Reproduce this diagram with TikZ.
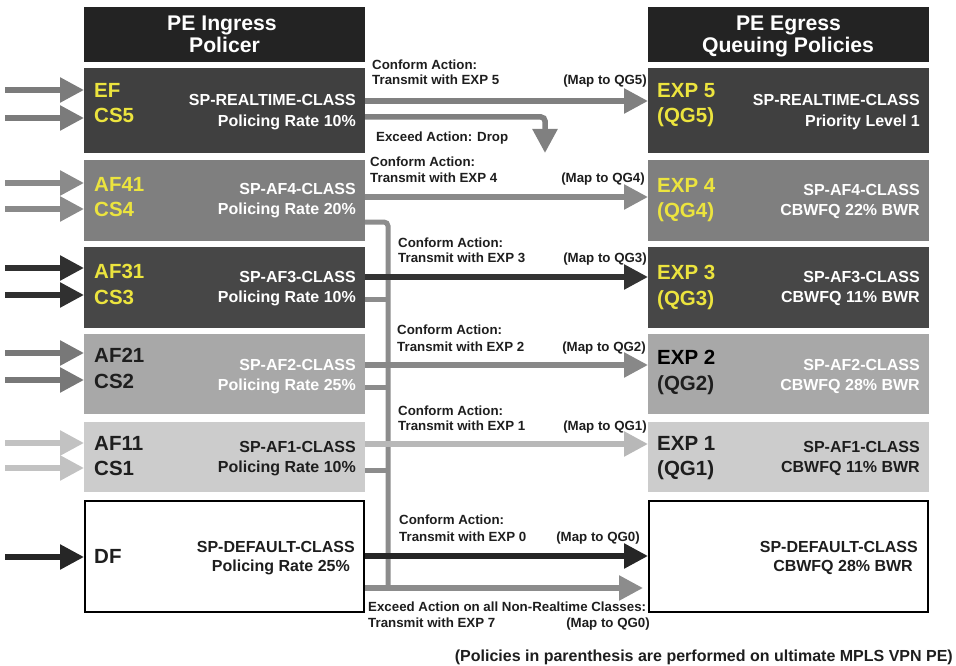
\documentclass[tikz,border=0pt]{standalone}
\usepackage{fontspec}
\setmainfont{Liberation Sans}
\usetikzlibrary{arrows.meta}

\definecolor{hdr}{HTML}{232323}
\definecolor{rtc}{HTML}{404040}
\definecolor{afour}{HTML}{7F7F7F}
\definecolor{athree}{HTML}{474747}
\definecolor{atwo}{HTML}{A8A8A8}
\definecolor{aone}{HTML}{CCCCCC}
\definecolor{ylw}{HTML}{ECE43E}
\definecolor{ink}{HTML}{1E1E1E}
\definecolor{busc}{HTML}{8C8C8C}
\definecolor{inA}{HTML}{7B7B7B}
\definecolor{inB}{HTML}{8A8A8A}
\definecolor{inC}{HTML}{303030}
\definecolor{inD}{HTML}{787878}
\definecolor{inE}{HTML}{C2C2C2}
\definecolor{inF}{HTML}{262626}
\definecolor{kfive}{HTML}{808080}
\definecolor{kfour}{HTML}{8A8A8A}
\definecolor{kthree}{HTML}{333333}
\definecolor{ktwo}{HTML}{888888}
\definecolor{kone}{HTML}{B8B8B8}
\definecolor{kzero}{HTML}{262626}

\begin{document}
\begin{tikzpicture}[x=1pt,y=-1pt,
  panel/.style={inner sep=0pt,outer sep=0pt,minimum width=281pt},
  plainpanel/.style={draw=black,line width=2pt,fill=white,inner sep=0pt,outer sep=1pt,minimum width=279pt},
  head/.style={font=\bfseries\fontsize{21.2}{23}\selectfont,text=white,inner sep=0pt,anchor=base},
  big/.style={font=\bfseries\fontsize{20.5}{22}\selectfont,inner sep=0pt,anchor=base west},
  cls/.style={font=\bfseries\fontsize{16}{18}\selectfont,inner sep=0pt,anchor=base east},
  act/.style={font=\bfseries\fontsize{13.3}{15}\selectfont,inner sep=0pt,text=ink,anchor=base west},
  actr/.style={act,anchor=base east},
  flow/.style={line width=5.5pt,-{Triangle[length=24pt,width=24pt]}},
  bar/.style={line width=5pt,draw=busc}]
\useasboundingbox (0,0) rectangle (956,666);

% ---------- column headers ----------
\node[panel,fill=hdr,minimum height=55pt] (lh) at (224.5,34.5) {};
\node[panel,fill=hdr,minimum height=55pt] (rh) at (788.5,34.5) {};
\node[head] (lh1) at (222,30.5) {PE Ingress};
\node[head] (lh2) at (224.5,52.5) {Policer};
\node[head] (rh1) at (788.5,30.5) {PE Egress};
\node[head] (rh2) at (788,52.5) {Queuing Policies};

% ---------- ingress policer classes ----------
\node[panel,fill=rtc,minimum height=85pt] (l1) at (224.5,110.5) {};
\node[panel,fill=afour,minimum height=81pt] (l2) at (224.5,200.5) {};
\node[panel,fill=athree,minimum height=81pt] (l3) at (224.5,287.5) {};
\node[panel,fill=atwo,minimum height=80pt] (l4) at (224.5,374) {};
\node[panel,fill=aone,minimum height=70pt] (l5) at (224.5,457) {};
\node[plainpanel,minimum height=111pt] (l6) at (224.5,556.5) {};

% ---------- egress queuing classes ----------
\node[panel,fill=rtc,minimum height=85pt] (r1) at (788.5,110.5) {};
\node[panel,fill=afour,minimum height=81pt] (r2) at (788.5,200.5) {};
\node[panel,fill=athree,minimum height=81pt] (r3) at (788.5,287.5) {};
\node[panel,fill=atwo,minimum height=80pt] (r4) at (788.5,374) {};
\node[panel,fill=aone,minimum height=70pt] (r5) at (788.5,457) {};
\node[plainpanel,minimum height=111pt] (r6) at (788.5,556.5) {};

% ---------- ingress labels ----------
\node[big,text=ylw] (t1a) at (94,97.3) {EF};
\node[big,text=ylw] (t1b) at (94,122.3) {CS5};
\node[cls,text=white] (t1c) at (356,105.7) {SP-REALTIME-CLASS};
\node[cls,text=white] (t1d) at (356,126.7) {Policing Rate 10\%};

\node[big,text=ylw] (t2a) at (94,191.3) {AF41};
\node[big,text=ylw] (t2b) at (94,216.3) {CS4};
\node[cls,text=white] (t2c) at (356,194.7) {SP-AF4-CLASS};
\node[cls,text=white] (t2d) at (356,214.7) {Policing Rate 20\%};

\node[big,text=ylw] (t3a) at (94,278.3) {AF31};
\node[big,text=ylw] (t3b) at (94,304.3) {CS3};
\node[cls,text=white] (t3c) at (356,282.7) {SP-AF3-CLASS};
\node[cls,text=white] (t3d) at (356,302.7) {Policing Rate 10\%};

\node[big,text=ink] (t4a) at (94,362.3) {AF21};
\node[big,text=ink] (t4b) at (94,388.3) {CS2};
\node[cls,text=white] (t4c) at (356,370.7) {SP-AF2-CLASS};
\node[cls,text=white] (t4d) at (356,390.7) {Policing Rate 25\%};

\node[big,text=ink] (t5a) at (94,450.3) {AF11};
\node[big,text=ink] (t5b) at (94,475.3) {CS1};
\node[cls,text=ink] (t5c) at (356,452.7) {SP-AF1-CLASS};
\node[cls,text=ink] (t5d) at (356,472.7) {Policing Rate 10\%};

\node[big,text=ink] (t6a) at (94,563.3) {DF};
\node[cls,text=ink] (t6c) at (355,552.7) {SP-DEFAULT-CLASS};
\node[cls,text=ink] (t6d) at (350,571.7) {Policing Rate 25\%};

% ---------- egress labels ----------
\node[big,text=ylw] (u1a) at (657,97.3) {EXP 5};
\node[big,text=ylw] (u1b) at (657,122.3) {(QG5)};
\node[cls,text=white] (u1c) at (920,105.7) {SP-REALTIME-CLASS};
\node[cls,text=white] (u1d) at (920,126.7) {Priority Level 1};

\node[big,text=ylw] (u2a) at (657,192.3) {EXP 4};
\node[big,text=ylw] (u2b) at (657,217.3) {(QG4)};
\node[cls,text=white] (u2c) at (920,195.7) {SP-AF4-CLASS};
\node[cls,text=white] (u2d) at (920,215.7) {CBWFQ 22\% BWR};

\node[big,text=ylw] (u3a) at (657,279.3) {EXP 3};
\node[big,text=ylw] (u3b) at (657,305.3) {(QG3)};
\node[cls,text=white] (u3c) at (920,282.7) {SP-AF3-CLASS};
\node[cls,text=white] (u3d) at (920,302.7) {CBWFQ 11\% BWR};

\node[big,text=black] (u4a) at (657,364.3) {EXP 2};
\node[big,text=ink] (u4b) at (657,390.3) {(QG2)};
\node[cls,text=white] (u4c) at (920,370.7) {SP-AF2-CLASS};
\node[cls,text=white] (u4d) at (920,390.7) {CBWFQ 28\% BWR};

\node[big,text=ink] (u5a) at (657,450.3) {EXP 1};
\node[big,text=ink] (u5b) at (657,475.3) {(QG1)};
\node[cls,text=ink] (u5c) at (920,452.7) {SP-AF1-CLASS};
\node[cls,text=ink] (u5d) at (920,472.7) {CBWFQ 11\% BWR};

\node[cls,text=ink] (u6c) at (918,552.7) {SP-DEFAULT-CLASS};
\node[cls,text=ink] (u6d) at (913,571.7) {CBWFQ 28\% BWR};

% ---------- incoming traffic ----------
\coordinate (i1a) at (5,90);  \coordinate (i1b) at (5,118);
\coordinate (i2a) at (5,183); \coordinate (i2b) at (5,209);
\coordinate (i3a) at (5,268); \coordinate (i3b) at (5,295);
\coordinate (i4a) at (5,353); \coordinate (i4b) at (5,380);
\coordinate (i5a) at (5,443); \coordinate (i5b) at (5,468);
\coordinate (i6a) at (5,557);
\draw[flow,draw=inA,fill=inA] (i1a) -- (l1.west |- i1a);
\draw[flow,draw=inA,fill=inA] (i1b) -- (l1.west |- i1b);
\draw[flow,draw=inB,fill=inB] (i2a) -- (l2.west |- i2a);
\draw[flow,draw=inB,fill=inB] (i2b) -- (l2.west |- i2b);
\draw[flow,draw=inC,fill=inC] (i3a) -- (l3.west |- i3a);
\draw[flow,draw=inC,fill=inC] (i3b) -- (l3.west |- i3b);
\draw[flow,draw=inD,fill=inD] (i4a) -- (l4.west |- i4a);
\draw[flow,draw=inD,fill=inD] (i4b) -- (l4.west |- i4b);
\draw[flow,draw=inE,fill=inE] (i5a) -- (l5.west |- i5a);
\draw[flow,draw=inE,fill=inE] (i5b) -- (l5.west |- i5b);
\draw[flow,draw=inF,fill=inF] (i6a) -- (l6.west |- i6a);

% ---------- exceed paths ----------
\coordinate (x5) at (545,117);
\coordinate (drop) at (545,153);
\draw[flow,draw=kfive,rounded corners=4pt] (l1.east |- x5) -- (x5) -- (drop);

\coordinate (busT) at (388,222);
\coordinate (busB) at (388,588);
\coordinate (e3) at (388,299);
\coordinate (e4) at (388,387);
\coordinate (e5) at (388,470);
\draw[bar,rounded corners=4pt] (l2.east |- busT) -- (busT) -- (busB);
\draw[bar] (l3.east |- e3) -- (e3);
\draw[bar] (l4.east |- e4) -- (e4);
\draw[bar] (l5.east |- e5) -- (e5);
\draw[flow,draw=busc,shorten >=5pt] (l6.east |- busB) -- (r6.west |- busB);

% ---------- conform paths ----------
\coordinate (k5) at (0,101);
\coordinate (k4) at (0,197);
\coordinate (k3) at (0,277);
\coordinate (k2) at (0,365);
\coordinate (k1) at (0,444);
\coordinate (k0) at (0,556);
\draw[flow,draw=kfive] (l1.east |- k5) -- (r1.west |- k5);
\draw[flow,draw=kfour] (l2.east |- k4) -- (r2.west |- k4);
\draw[flow,draw=kthree] (l3.east |- k3) -- (r3.west |- k3);
\draw[flow,draw=ktwo] (l4.east |- k2) -- (r4.west |- k2);
\draw[flow,draw=kone] (l5.east |- k1) -- (r5.west |- k1);
\draw[flow,draw=kzero] (l6.east |- k0) -- (r6.west |- k0);

% ---------- action labels ----------
\node[act] (a5a) at (372,69.8) {Conform Action:};
\node[act] (a5b) at (372,84.8) {Transmit with EXP 5};
\node[actr] (a5c) at (647,84.8) {(Map to QG5)};
\node[act] (d5) at (376,141.8) {Exceed Action: Drop};

\node[act] (a4a) at (370,166.8) {Conform Action:};
\node[act] (a4b) at (370,182.8) {Transmit with EXP 4};
\node[actr] (a4c) at (645,182.8) {(Map to QG4)};

\node[act] (a3a) at (398,247.8) {Conform Action:};
\node[act] (a3b) at (398,262.8) {Transmit with EXP 3};
\node[actr] (a3c) at (647,262.8) {(Map to QG3)};

\node[act] (a2a) at (397,334.8) {Conform Action:};
\node[act] (a2b) at (397,351.8) {Transmit with EXP 2};
\node[actr] (a2c) at (646,351.8) {(Map to QG2)};

\node[act] (a1a) at (398,415.8) {Conform Action:};
\node[act] (a1b) at (398,430.8) {Transmit with EXP 1};
\node[actr] (a1c) at (647,430.8) {(Map to QG1)};

\node[act] (a0a) at (399,524.8) {Conform Action:};
\node[act] (a0b) at (399,541.8) {Transmit with EXP 0};
\node[actr] (a0c) at (640,541.8) {(Map to QG0)};

\node[act] (e7a) at (368,611.8) {Exceed Action on all Non-Realtime Classes:};
\node[act] (e7b) at (368,627.8) {Transmit with EXP 7};
\node[actr] (e7c) at (650,627.8) {(Map to QG0)};

\node[font=\bfseries\fontsize{16}{18}\selectfont,text=ink,inner sep=0pt,anchor=base east] (note) at (953,661) {(Policies in parenthesis are performed on ultimate MPLS VPN PE)};
\end{tikzpicture}
\end{document}
